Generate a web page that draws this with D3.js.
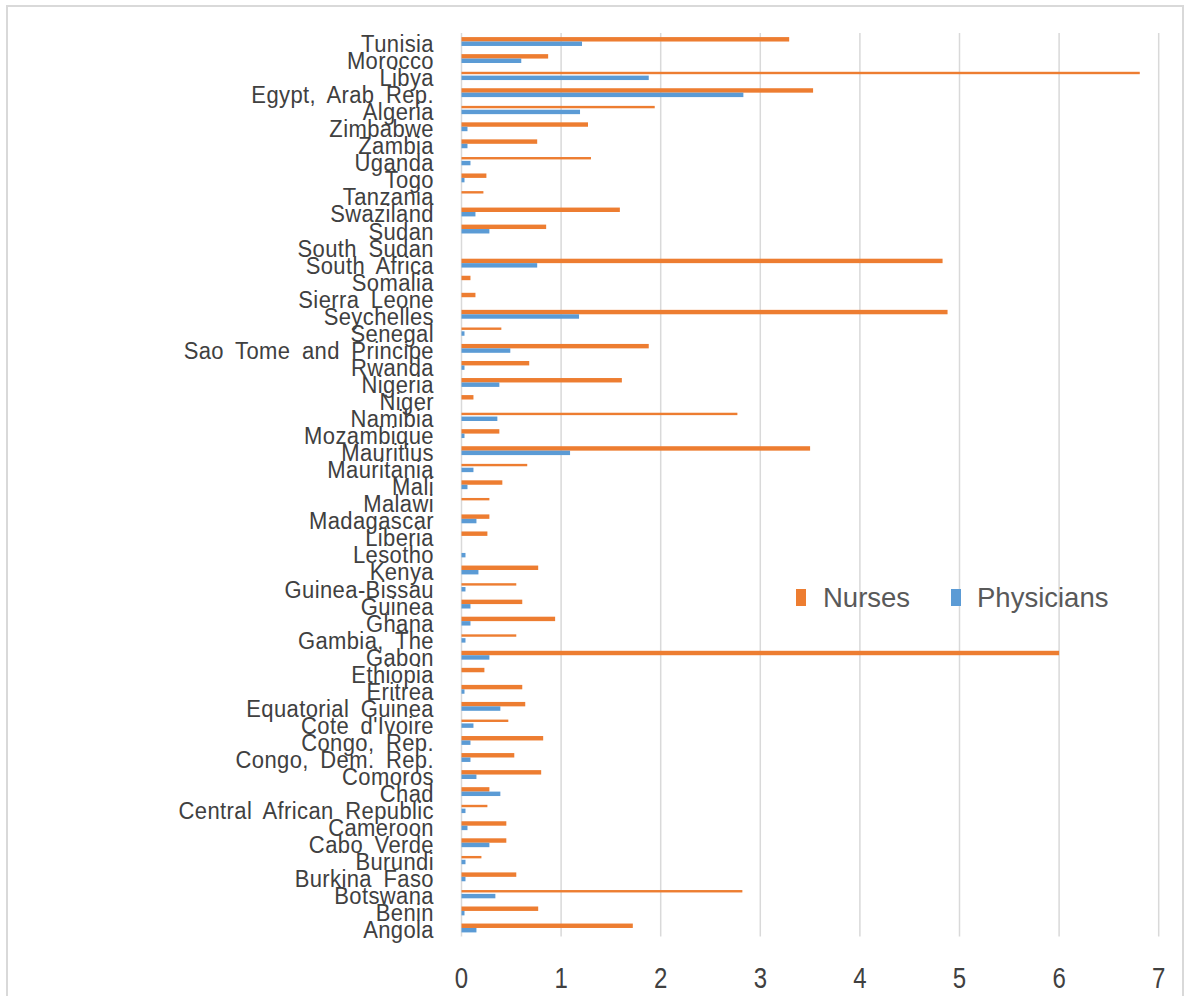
<!DOCTYPE html>
<html>
<head>
<meta charset="utf-8">
<script src="https://cdn.jsdelivr.net/npm/d3@7/dist/d3.min.js"></script>
<style>
  html, body { margin: 0; padding: 0; background: #ffffff; }
  svg { display: block; }
</style>
</head>
<body>
<script>
// Health workforce density (per 1,000 people) across African countries
const countries = [
  "Tunisia", "Morocco", "Libya", "Egypt, Arab Rep.", "Algeria", "Zimbabwe", "Zambia",
  "Uganda", "Togo", "Tanzania", "Swaziland", "Sudan", "South Sudan", "South Africa",
  "Somalia", "Sierra Leone", "Seychelles", "Senegal", "Sao Tome and Principe", "Rwanda",
  "Nigeria", "Niger", "Namibia", "Mozambique", "Mauritius", "Mauritania", "Mali",
  "Malawi", "Madagascar", "Liberia", "Lesotho", "Kenya", "Guinea-Bissau", "Guinea",
  "Ghana", "Gambia, The", "Gabon", "Ethiopia", "Eritrea", "Equatorial Guinea",
  "Cote d'Ivoire", "Congo, Rep.", "Congo, Dem. Rep.", "Comoros", "Chad",
  "Central African Republic", "Cameroon", "Cabo Verde", "Burundi", "Burkina Faso",
  "Botswana", "Benin", "Angola"
];

const nurses = [
  3.29, 0.87, 6.81, 3.53, 1.94, 1.27, 0.76,
  1.30, 0.25, 0.22, 1.59, 0.85, 0, 4.83,
  0.09, 0.14, 4.88, 0.40, 1.88, 0.68,
  1.61, 0.12, 2.77, 0.38, 3.50, 0.66, 0.41,
  0.28, 0.28, 0.26, 0, 0.77, 0.55, 0.61,
  0.94, 0.55, 6.00, 0.23, 0.61, 0.64,
  0.47, 0.82, 0.53, 0.80, 0.28,
  0.26, 0.45, 0.45, 0.20, 0.55,
  2.82, 0.77, 1.72
];

const physicians = [
  1.21, 0.60, 1.88, 2.83, 1.19, 0.06, 0.06,
  0.09, 0.03, 0, 0.14, 0.28, 0, 0.76,
  0, 0, 1.18, 0.03, 0.49, 0.03,
  0.38, 0, 0.36, 0.03, 1.09, 0.12, 0.06,
  0, 0.15, 0, 0.04, 0.17, 0.04, 0.09,
  0.09, 0.04, 0.28, 0, 0.03, 0.39,
  0.12, 0.09, 0.09, 0.15, 0.39,
  0.04, 0.06, 0.28, 0.04, 0.04,
  0.34, 0.03, 0.15
];

const seriesNames = ["Nurses", "Physicians"];
const seriesColors = ["#ED7D31", "#5B9BD5"];
const xTicks = [0, 1, 2, 3, 4, 5, 6, 7];

// Rows whose nurse bar is rendered as a hairline stroke
const hairlineNurseRows = new Set([
  "Libya", "Algeria", "Uganda", "Tanzania", "Senegal", "Namibia", "Mauritania",
  "Malawi", "Guinea-Bissau", "Gambia, The", "Cote d'Ivoire",
  "Central African Republic", "Burundi", "Botswana"
]);

const W = 1190, H = 996;
const plot = { left: 461.5, right: 1158.7, top: 33, bottom: 936.5 };

const svg = d3.select("body").append("svg")
  .attr("width", W).attr("height", H);

// chart frame
svg.append("rect")
  .attr("x", 7).attr("y", 6).attr("width", 1176).attr("height", 1000)
  .attr("fill", "#ffffff").attr("stroke", "#d9d9d9").attr("stroke-width", 2);

const x = d3.scaleLinear().domain([0, 7]).range([plot.left, plot.right]);

const y = d3.scaleBand()
  .domain(countries)
  .range([plot.top, plot.bottom])
  .paddingInner(0.48)
  .paddingOuter(0.24);

const ySeries = d3.scaleBand()
  .domain(seriesNames)
  .range([0, y.bandwidth()]);

// vertical gridlines
svg.append("g")
  .selectAll("line")
  .data(xTicks)
  .join("line")
  .attr("x1", d => x(d)).attr("x2", d => x(d))
  .attr("y1", plot.top).attr("y2", plot.bottom)
  .attr("stroke", "#d9d9d9").attr("stroke-width", 1.5);

const rows = countries.map((c, i) => ({ country: c, values: [nurses[i], physicians[i]] }));

const groups = svg.append("g")
  .selectAll("g")
  .data(rows)
  .join("g")
  .attr("transform", d => `translate(0,${y(d.country)})`);

const isHairline = d => d.k === 0 && hairlineNurseRows.has(d.country);

groups.selectAll("rect")
  .data(d => d.values
    .map((v, k) => ({ country: d.country, key: seriesNames[k], k, v }))
    .filter(e => e.v > 0))
  .join("rect")
  .attr("x", x(0))
  .attr("width", d => x(d.v) - x(0))
  .attr("y", d => ySeries(d.key) + (isHairline(d) ? 0.6 : 0))
  .attr("height", d => isHairline(d) ? 2.4 : ySeries.bandwidth())
  .attr("fill", d => seriesColors[d.k]);

// category labels
svg.append("g")
  .selectAll("text")
  .data(countries)
  .join("text")
  .attr("transform", d => `translate(434,${y(d) + y.bandwidth() / 2 + 10.5}) scale(1,1.06)`)
  .attr("text-anchor", "end")
  .attr("font-family", "'Liberation Sans', Arial, sans-serif")
  .attr("font-size", 22)
  .attr("letter-spacing", 0.4)
  .attr("word-spacing", 5)
  .attr("fill", "#404040")
  .text(d => d);

// value axis labels
svg.append("g")
  .selectAll("text")
  .data(xTicks)
  .join("text")
  .attr("transform", d => `translate(${x(d)},988) scale(0.8,1)`)
  .attr("text-anchor", "middle")
  .attr("font-family", "'Liberation Sans', Arial, sans-serif")
  .attr("font-size", 30)
  .attr("fill", "#404040")
  .text(d => d);

// legend
const legendItems = [
  { name: seriesNames[0], color: seriesColors[0], sx: 796, tx: 823 },
  { name: seriesNames[1], color: seriesColors[1], sx: 951, tx: 977 }
];
const legend = svg.append("g");
legend.selectAll("rect")
  .data(legendItems)
  .join("rect")
  .attr("x", d => d.sx).attr("y", 589)
  .attr("width", 10).attr("height", 17)
  .attr("fill", d => d.color);
legend.selectAll("text")
  .data(legendItems)
  .join("text")
  .attr("x", d => d.tx).attr("y", 606.5)
  .attr("font-family", "'Liberation Sans', Arial, sans-serif")
  .attr("font-size", 27.5)
  .attr("fill", "#595959")
  .text(d => d.name);
</script>
</body>
</html>
